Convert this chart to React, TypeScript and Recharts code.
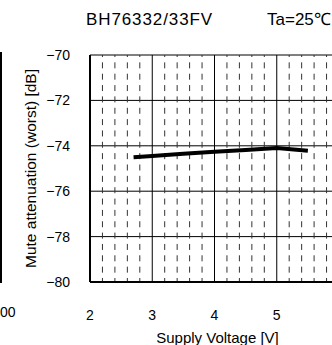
import React from "react";
import {
  LineChart,
  Line,
  XAxis,
  YAxis,
  CartesianGrid,
  ReferenceLine,
  Label,
} from "recharts";

// Supply voltage [V] and mute attenuation (worst) [dB]
const voltage = [2.7, 3, 3.5, 4, 4.5, 5, 5.5];
const attenuation = [-74.5, -74.45, -74.35, -74.26, -74.18, -74.1, -74.22];

// Axis ticks
const xTicks = [2, 3, 4, 5];
const xMinorTicks = [
  2.2, 2.4, 2.6, 2.8, 3.2, 3.4, 3.6, 3.8, 4.2, 4.4, 4.6, 4.8, 5.2, 5.4, 5.6, 5.8,
];
const yTicks = [-80, -78, -76, -74, -72, -70];

const font = "'Liberation Sans', Arial, sans-serif";

const data = voltage.map((v, i) => ({ v, db: attenuation[i] }));

const minus = (n: number) => String(n).replace("-", "\u2212");

const App: React.FC = () => {
  return (
    <div
      style={{
        position: "absolute",
        left: 0,
        top: 0,
        width: 332,
        height: 345,
        overflow: "hidden",
        background: "#fff",
        fontFamily: font,
      }}
    >
      {/* titles above the plot */}
      <div style={{ position: "absolute", left: 86, top: 11, fontSize: 17, lineHeight: 1, letterSpacing: 0.9 }}>
        BH76332/33FV
      </div>
      <div style={{ position: "absolute", left: 267, top: 11, fontSize: 17, lineHeight: 1 }}>
        Ta=25℃
      </div>

      {/* edge of the neighbouring chart */}
      <div style={{ position: "absolute", left: 0, top: 52, width: 2, height: 231, background: "#000" }} />
      <div style={{ position: "absolute", left: 0, top: 305, fontSize: 14, lineHeight: 1 }}>00</div>

      <LineChart
        width={345}
        height={345}
        data={data}
        margin={{ top: 55, right: 6, bottom: 0, left: 0 }}
        style={{ position: "absolute", left: 0, top: 0 }}
      >
        {/* major solid grid */}
        <CartesianGrid stroke="#000" strokeWidth={1} />
        {/* minor dashed verticals */}
        {xMinorTicks.map((t) => (
          <ReferenceLine
            key={t}
            x={t}
            stroke="#333"
            strokeWidth={1}
            strokeDasharray="6 5.35"
            strokeDashoffset={2}
          />
        ))}
        <XAxis
          type="number"
          dataKey="v"
          domain={[2, 6]}
          ticks={xTicks}
          height={63}
          tickLine={false}
          tickSize={0}
          tickMargin={28}
          axisLine={{ stroke: "#000", strokeWidth: 2 }}
          tick={{ fill: "#000", fontSize: 14, fontFamily: font }}
        >
          <Label
            value="Supply Voltage [V]"
            position="insideBottom"
            offset={2}
            dx={3}
            style={{ fill: "#000", fontSize: 15, fontFamily: font }}
          />
        </XAxis>
        <YAxis
          type="number"
          domain={[-80, -70]}
          ticks={yTicks}
          width={90}
          tickLine={false}
          tickSize={0}
          tickMargin={20}
          tickFormatter={minus}
          axisLine={{ stroke: "#000", strokeWidth: 2 }}
          tick={{ fill: "#000", fontSize: 14, fontFamily: font }}
        >
          <Label
            value="Mute attenuation (worst) [dB]"
            angle={-90}
            position="insideLeft"
            offset={30}
            style={{ fill: "#000", fontSize: 15.5, fontFamily: font, textAnchor: "middle" }}
          />
        </YAxis>
        <Line
          type="linear"
          dataKey="db"
          stroke="#000"
          strokeWidth={4}
          dot={false}
          isAnimationActive={false}
        />
      </LineChart>
    </div>
  );
};

export default App;
